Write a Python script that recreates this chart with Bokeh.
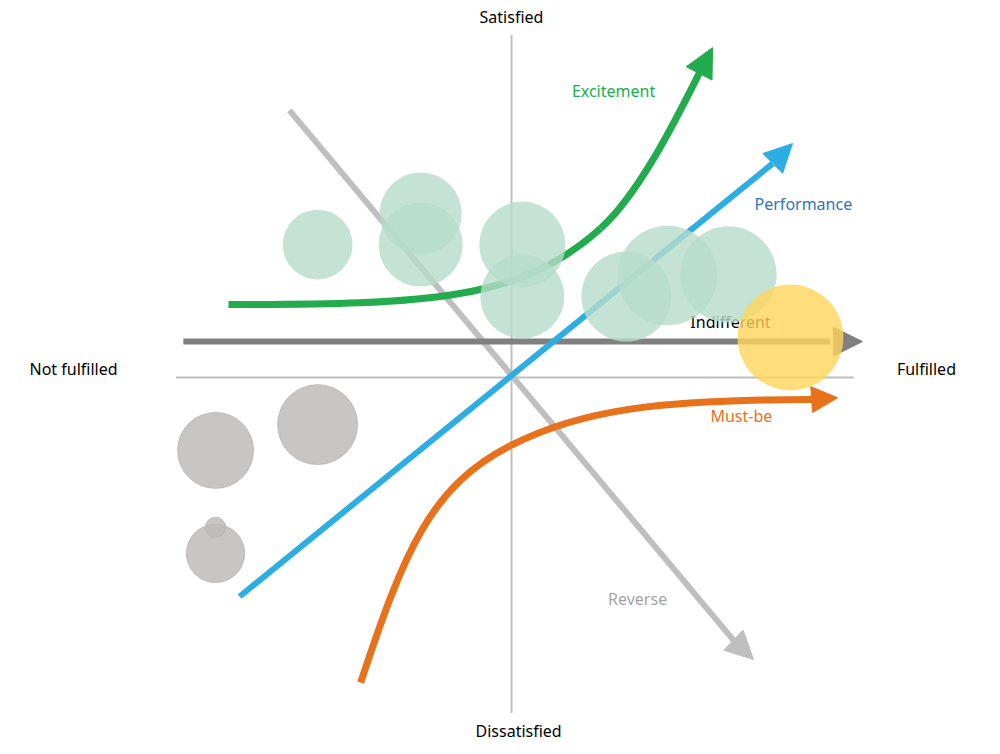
from bokeh.plotting import figure
from bokeh.models import Range1d, Arrow, NormalHead, ColumnDataSource
from bokeh.core.properties import value
from bokeh.embed import file_html
from bokeh.resources import INLINE

# ---------------- data (Kano coordinates, axes span about -100..100) ----------------
# axes
axis_h_x = [-99, 101]
axis_h_y = [0, 0]
axis_v_x = [0, 0]
axis_v_y = [101, -99]

# Indifferent (straight)
ind_x = [-96.8, 94.1]
ind_y = [10.6, 10.6]
ind_tip = (103.5, 10.6)

# Performance (straight)
perf_x = [-80.2, 77.0]
perf_y = [-64.6, 63.1]
perf_tip = (82.9, 69.0)

# Reverse (straight)
rev_x = [-65.5, 65.6]
rev_y = [78.8, -77.6]
rev_tip = (71.4, -83.2)

# Excitement (two cubic segments: start, control 1, control 2, end)
exc_x0 = [-83.5, 26.3]
exc_y0 = [21.5, 44.0]
exc_cx0 = [-24.5, 38.1]
exc_cy0 = [21.5, 54.6]
exc_cx1 = [2.7, 49.5]
exc_cy1 = [22.7, 78.1]
exc_x1 = [26.3, 55.5]
exc_y1 = [44.0, 90.0]
exc_tip = (59.3, 97.3)

# Must-be (two cubic segments)
must_x0 = [-44.5, -0.3]
must_y0 = [-90.0, -20.1]
must_cx0 = [-31.5, 20.7]
must_cy0 = [-50.8, -9.3]
must_cx1 = [-23.9, 44.5]
must_cy1 = [-32.2, -6.5]
must_x1 = [-0.3, 88.8]
must_y1 = [-20.1, -6.5]
must_tip = (96.2, -6.0)

# bubbles
green_x = [-57.2, -26.8, -26.8, 3.2, 3.2, 33.9, 46.0, 64.0]
green_y = [39.2, 48.4, 39.2, 39.2, 23.9, 23.9, 30.1, 30.4]
green_r = [10.3, 12.1, 12.4, 12.7, 12.4, 13.3, 14.7, 14.2]

gray_x = [-87.3, -57.2, -87.3, -87.3]
gray_y = [-21.5, -13.9, -51.9, -44.2]
gray_r = [11.2, 11.8, 8.6, 3.0]

yellow_x = [82.3]
yellow_y = [11.8]
yellow_r = [15.6]

# labels
axis_labels = ["Satisfied", "Dissatisfied", "Not fulfilled", "Fulfilled"]
axis_label_x = [0, 2.1, -129.2, 122.4]
axis_label_y = [106.2, -104.4, 2.4, 2.4]

curve_labels = ["Excitement", "Performance", "Indifferent", "Must-be", "Reverse"]
curve_label_x = [30.1, 86.1, 64.6, 67.8, 37.2]
curve_label_y = [84.4, 51.3, 16.5, -11.5, -65.2]

# colours
C_AXIS = "#BFBFBF"
C_EXC = "#22AC4E"
C_PERF = "#2DAEE3"
C_PERF_TXT = "#2E75B6"
C_MUST = "#E8711B"
C_IND = "#808080"
C_REV = "#BFBFBF"
C_REV_TXT = "#A5A5A5"
curve_label_colors = [C_EXC, C_PERF_TXT, "#000000", C_MUST, C_REV_TXT]

# ---------------- figure ----------------
p = figure(width=984, height=746,
           x_range=Range1d(-150.74, 139.53), y_range=Range1d(-108.85, 111.21),
           x_axis_type=None, y_axis_type=None,
           toolbar_location=None, output_backend="svg", min_border=0)
p.outline_line_color = None
p.grid.visible = False
p.background_fill_color = "white"

# axes
p.line(axis_h_x, axis_h_y, line_color=C_AXIS, line_width=2)
p.line(axis_v_x, axis_v_y, line_color=C_AXIS, line_width=2)

# lines
p.line(rev_x, rev_y, line_color=C_REV, line_width=6)
p.line(ind_x, ind_y, line_color=C_IND, line_width=6)
p.line(perf_x, perf_y, line_color=C_PERF, line_width=6)
p.bezier(x0=exc_x0, y0=exc_y0, x1=exc_x1, y1=exc_y1,
         cx0=exc_cx0, cy0=exc_cy0, cx1=exc_cx1, cy1=exc_cy1,
         line_color=C_EXC, line_width=7)
p.bezier(x0=must_x0, y0=must_y0, x1=must_x1, y1=must_y1,
         cx0=must_cx0, cy0=must_cy0, cx1=must_cx1, cy1=must_cy1,
         line_color=C_MUST, line_width=7)


def head(xs, ys, tip, color, size):
    arr = Arrow(end=NormalHead(size=size, fill_color=color, line_color=color, line_width=1),
                x_start=xs[-1], y_start=ys[-1], x_end=tip[0], y_end=tip[1],
                line_alpha=0, line_width=1, level="underlay")
    p.add_layout(arr)


head(rev_x, rev_y, rev_tip, C_REV, 28)
head(ind_x, ind_y, ind_tip, C_IND, 29)
head(perf_x, perf_y, perf_tip, C_PERF, 28)
head(exc_x1, exc_y1, exc_tip, C_EXC, 29)
head(must_x1, must_y1, must_tip, C_MUST, 26)

# labels
src_ax = ColumnDataSource(dict(x=axis_label_x, y=axis_label_y, t=axis_labels))
p.text("x", "y", text="t", source=src_ax, text_font=value("Noto Sans"),
       text_font_size="16px", text_color="#000000",
       text_align="center", text_baseline="middle")
src_cl = ColumnDataSource(dict(x=curve_label_x, y=curve_label_y, t=curve_labels,
                               c=curve_label_colors))
p.text("x", "y", text="t", source=src_cl, text_font=value("Noto Sans"),
       text_font_size="16px", text_color="c",
       text_align="center", text_baseline="middle")

# bubbles
p.circle(green_x, green_y, radius=green_r, fill_color="#B7DCCA", fill_alpha=0.8,
         line_color=None)
p.circle(gray_x, gray_y, radius=gray_r, fill_color="#BDBCBB", fill_alpha=0.85,
         line_color="#B5B4B3", line_alpha=0.8, line_width=1)
p.circle(yellow_x, yellow_y, radius=yellow_r, fill_color="#FFD55A", fill_alpha=0.8,
         line_color=None)

open("out.html", "w").write(file_html(p, INLINE))
